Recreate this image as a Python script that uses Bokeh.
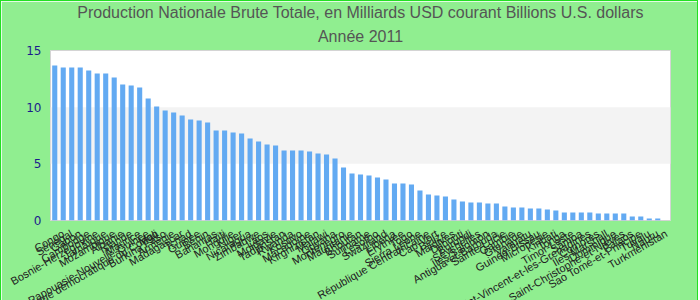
import math
from bokeh.plotting import figure
from bokeh.models import Range1d, FixedTicker, BoxAnnotation, Title, FactorRange
from bokeh.embed import file_html
from bokeh.resources import INLINE

pays = [
    "République démocratique du Congo", "Congo", "Sénégal", "Gabon", "Cambodge",
    "Bosnie-Herzégovine", "Jamaïque", "Mozambique", "Albanie", "Islande",
    "Maurice", "Papouasie-Nouvelle-Guinée", "Mali", "Burkina Faso", "Arménie",
    "Madagascar", "Tchad", "Guinée", "Bénin", "Bahamas",
    "Haïti", "Mongolie", "Niger", "Nicaragua", "Zimbabwe",
    "Laos", "Moldavie", "Tadjikistan", "Rwanda", "Kosovo",
    "Macédoine", "Kirghizistan", "Malawi", "Guyana", "Monténégro",
    "Mauritanie", "Bhoutan", "Suriname", "Lesotho", "Swaziland",
    "Libéria", "Érythrée", "Togo", "Sierra Leone", "République Centrafricaine",
    "Cap-Vert", "Belize", "Maldives", "Djibouti", "Burundi",
    "Seychelles", "Îles Salomon", "Antigua-et-Barbuda", "Sainte-Lucie", "Gambie",
    "Grenade", "Vanuatu", "Guinée-Bissau", "Micronésie", "Kiribati",
    "Tonga", "Timor-Leste", "Samoa", "Saint-Vincent-et-les-Grenadines", "Comores",
    "Îles Marshall", "Dominique", "Saint-Christophe-et-Niévès", "Palaos", "Sao Tomé-et-Principe",
    "Tuvalu", "Nauru", "Turkménistan",
]

pnb = [
    13.68, 13.5, 13.5, 13.5, 13.24, 12.97, 12.97, 12.62, 12.0, 11.91,
    11.74, 10.76, 10.06, 9.71, 9.53, 9.26, 8.91, 8.82, 8.65, 7.94,
    7.94, 7.76, 7.68, 7.24, 6.97, 6.71, 6.62, 6.18, 6.18, 6.18,
    6.09, 5.91, 5.82, 5.47, 4.68, 4.15, 4.06, 3.97, 3.79, 3.62,
    3.26, 3.26, 3.18, 2.65, 2.29, 2.21, 2.12, 1.85, 1.68, 1.59,
    1.59, 1.5, 1.5, 1.24, 1.15, 1.15, 1.06, 1.06, 0.97, 0.88,
    0.71, 0.71, 0.71, 0.71, 0.62, 0.62, 0.62, 0.62, 0.35, 0.35,
    0.18, 0.18, 0.0,
]

y_ticks = [0, 5, 10, 15]

titre_1 = "Production Nationale Brute Totale, en Milliards USD courant Billions U.S. dollars"
titre_2 = "Année 2011"

p = figure(
    width=698, height=336,
    x_range=FactorRange(*pays, range_padding=0, factor_padding=0),
    y_range=Range1d(0, 15),
    output_backend="svg", toolbar_location=None,
    min_border_left=49, min_border_right=29, min_border_bottom=117, min_border_top=49,
)
p.styles = {"border": "1px solid #22e022"}

p.add_layout(Title(text=titre_2, align="center", text_font_size="16px",
                   text_color="#555555", text_font="Liberation Sans",
                   text_font_style="normal", standoff=11), "above")
p.add_layout(Title(text=titre_1, align="center", text_font_size="16px",
                   text_color="#555555", text_font="Liberation Sans",
                   text_font_style="normal", standoff=0), "above")

p.border_fill_color = "#90ee90"
p.background_fill_color = "white"
p.outline_line_color = "#d4d4d4"
p.outline_line_width = 1

p.add_layout(BoxAnnotation(bottom=5, top=10, fill_color="#f3f3f3", fill_alpha=1,
                           line_color=None, level="underlay"))

p.vbar(x=pays, top=pnb, width=0.6, fill_color="#63aaf2", line_color=None)

p.xgrid.grid_line_color = None
p.ygrid.grid_line_color = None

p.xaxis.axis_line_color = None
p.xaxis.major_tick_line_color = None
p.xaxis.minor_tick_line_color = None
p.xaxis.major_tick_out = 0
p.xaxis.major_label_orientation = math.pi / 6
p.xaxis.major_label_text_font = "Liberation Sans"
p.xaxis.major_label_text_font_size = "11px"
p.xaxis.major_label_text_color = "#222222"
p.xaxis.major_label_standoff = 12

p.yaxis.ticker = FixedTicker(ticks=y_ticks)
p.yaxis.axis_line_color = None
p.yaxis.major_tick_line_color = None
p.yaxis.minor_tick_line_color = None
p.yaxis.major_tick_out = 0
p.yaxis.major_label_text_color = "#1c1c8c"
p.yaxis.major_label_text_font = "DejaVu Sans"
p.yaxis.major_label_text_font_size = "12px"
p.yaxis.major_label_standoff = 9

open("out.html", "w").write(file_html(p, INLINE))
